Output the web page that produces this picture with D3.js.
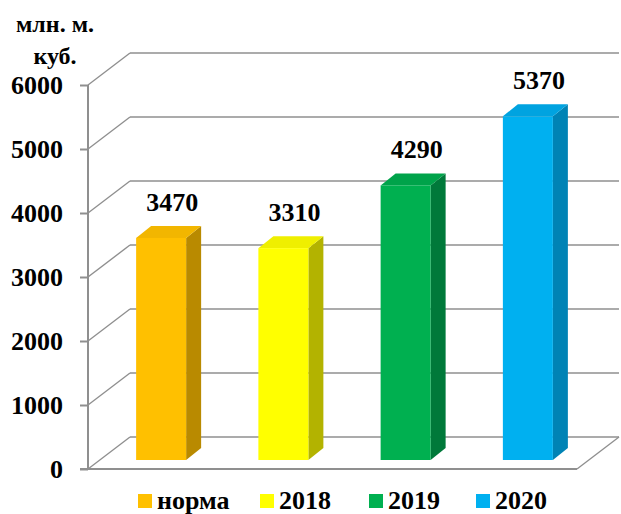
<!DOCTYPE html>
<html><head><meta charset="utf-8">
<script src="https://cdn.jsdelivr.net/npm/d3@7/dist/d3.min.js"></script>
<style>
svg text { font-family: "Liberation Serif", Tinos, "Times New Roman", serif !important; font-weight: bold !important; }
</style>
</head><body style="margin:0">
<svg id="c" width="621" height="514"></svg>
<script>
const categories = ["норма", "2018", "2019", "2020"];
const values = [3470, 3310, 4290, 5370];
const yTicks = [0, 1000, 2000, 3000, 4000, 5000, 6000];
const axisTitle = ["млн. м.", "куб."];
const frontColors = ["#FFC000", "#FFFF00", "#00B050", "#00B0F0"];
const sideColors = ["#B98A00", "#B3B300", "#00793A", "#0083B5"];
const topColors = ["#F2B600", "#EFEF00", "#00A34A", "#00A3E0"];

const svg = d3.select("#c");
const FONT = "Liberation Serif";
const x = d3.scaleBand().domain(categories).range([88, 577]);
const y = d3.scaleLinear().domain([0, 6000]).range([469, 85]);
const DX = 42, DY = -32;           // wall depth
const bfx = 12, bfy = -9;          // bar front offset
const bdx = 15, bdy = -12;         // bar depth
const bw = 50;
const grid = "#8f8f8f";

function txt(sel, size) {
  return sel.style("font-family", FONT, "important").style("font-weight", "bold", "important")
    .style("font-size", size + "px").attr("fill", "#000");
}

const g = svg.append("g");
yTicks.forEach(t => {
  g.append("line").attr("x1", 88 + DX).attr("x2", 577 + DX)
    .attr("y1", y(t) + DY).attr("y2", y(t) + DY)
    .attr("stroke", grid).attr("stroke-width", 1.6);
  g.append("line").attr("x1", 88).attr("x2", 88 + DX)
    .attr("y1", y(t)).attr("y2", y(t) + DY)
    .attr("stroke", grid).attr("stroke-width", 1.4);
});
g.append("line").attr("x1", 577).attr("y1", y(0)).attr("x2", 577 + DX).attr("y2", y(0) + DY)
  .attr("stroke", grid).attr("stroke-width", 1.4);
g.append("line").attr("x1", 80).attr("y1", y(0)).attr("x2", 577).attr("y2", y(0))
  .attr("stroke", grid).attr("stroke-width", 2);
g.append("line").attr("x1", 88).attr("x2", 88).attr("y1", y(6000)).attr("y2", y(0))
  .attr("stroke", grid).attr("stroke-width", 2);

const axis = d3.axisLeft(y).tickValues(yTicks).tickSize(8).tickPadding(17).tickFormat(d3.format("d"));
const ag = svg.append("g").attr("transform", "translate(88,0)").call(axis);
ag.attr("font-family", FONT);
ag.select(".domain").remove();
ag.selectAll(".tick line").attr("stroke", grid).attr("stroke-width", 2);
txt(ag.selectAll(".tick text"), 26).attr("dy", "0.34em");

const bars = svg.append("g");
categories.forEach((c, i) => {
  const x0 = x(c) + (x.bandwidth() - bw) / 2 + bfx;
  const yb = y(0) + bfy;
  const yt = y(values[i]) + bfy;
  const bg = bars.append("g");
  bg.append("path").attr("d", `M${x0 + bw},${yb}L${x0 + bw + bdx},${yb + bdy}L${x0 + bw + bdx},${yt + bdy}L${x0 + bw},${yt}Z`)
    .attr("fill", sideColors[i]);
  bg.append("path").attr("d", `M${x0},${yt}L${x0 + bdx},${yt + bdy}L${x0 + bw + bdx},${yt + bdy}L${x0 + bw},${yt}Z`)
    .attr("fill", topColors[i]);
  bg.append("rect").attr("x", x0).attr("y", yt).attr("width", bw).attr("height", yb - yt)
    .attr("fill", frontColors[i]);
  txt(svg.append("text"), 26).attr("x", x0 + bw / 2 + 11).attr("y", yt + bdy - 15)
    .attr("text-anchor", "middle").text(values[i]);
});

txt(svg.append("text"), 24).attr("x", 55).attr("y", 32).attr("text-anchor", "middle").text(axisTitle[0]);
txt(svg.append("text"), 24).attr("x", 55).attr("y", 64).attr("text-anchor", "middle").text(axisTitle[1]);

const legX = [138, 260, 369, 476];
const lg = svg.append("g");
categories.forEach((c, i) => {
  lg.append("rect").attr("x", legX[i]).attr("y", 494).attr("width", 14).attr("height", 14)
    .attr("fill", frontColors[i]);
  txt(lg.append("text"), 26).attr("x", legX[i] + 19).attr("y", 509).text(c);
});
</script>
</body></html>
